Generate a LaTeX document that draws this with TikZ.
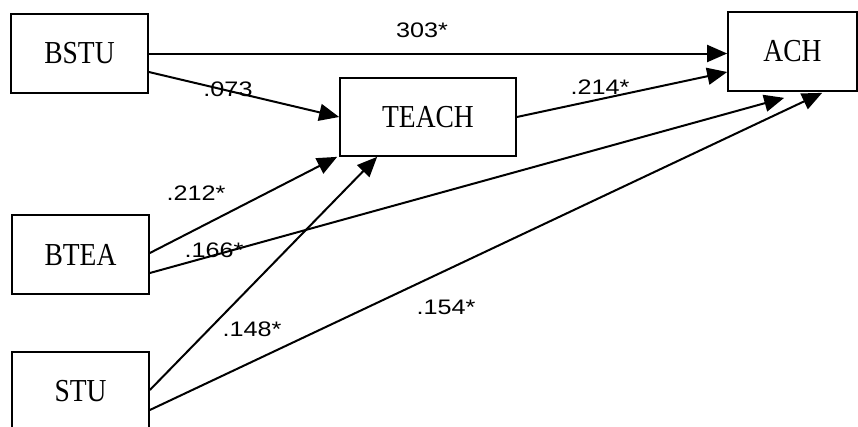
\documentclass[tikz,border=0pt]{standalone}
\usepackage{fontspec}
\setmainfont{Liberation Serif}[FakeStretch=0.86]
\newfontfamily\labfont{Liberation Sans}[FakeStretch=1.2]
\usetikzlibrary{arrows.meta}
\begin{document}
\begin{tikzpicture}[x=1pt,y=-1pt,
  box/.style={draw, line width=1.7pt, minimum width=137pt, minimum height=79pt, inner sep=0pt, font=\fontsize{32}{32}\selectfont},
  conn/.style={line width=2pt, -{Triangle[length=20pt,width=17pt]}},
  lab/.style={font=\labfont\fontsize{21}{21}\selectfont, inner sep=0pt}]
\useasboundingbox (0,0) rectangle (858,426);
\node[box] (bstu) at (79.5,53.5) {BSTU};
\node[box, minimum width=176pt, minimum height=78pt] (teach) at (428,117) {TEACH};
\node[box, minimum width=129pt] (ach) at (792.5,51.5) {ACH};
\node[box] (btea) at (80.5,254.5) {BTEA};
\node[box] (stu) at (80.5,391.5) {STU};
% connectors
\draw[conn] (bstu.east) -- (bstu.east -| ach.west);
\draw[conn] ([yshift=-18.5pt]bstu.east) -- (teach.west);
\draw[conn] (teach.east) -- ([yshift=-20.5pt]ach.west);
\draw[conn] ([yshift=1.5pt]btea.east) -- ([xshift=-2pt]teach.south west);
\draw[conn] ([yshift=-18.5pt]btea.east) -- ([xshift=57pt,yshift=-6pt]ach.south west);
\draw[conn] ([yshift=1.5pt]stu.east) -- ([xshift=38pt]teach.south west);
\draw[conn] ([yshift=-18.5pt]stu.east) -- ([xshift=95pt,yshift=-1pt]ach.south west);
% labels
\node[lab] (l1) at (422,30) {303*};
\node[lab] (l2) at (228,89) {.073};
\node[lab] (l3) at (600,87) {.214*};
\node[lab] (l4) at (196,193) {.212*};
\node[lab] (l5) at (214,250) {.166*};
\node[lab] (l6) at (252,329) {.148*};
\node[lab] (l7) at (446,307) {.154*};
\end{tikzpicture}
\end{document}
